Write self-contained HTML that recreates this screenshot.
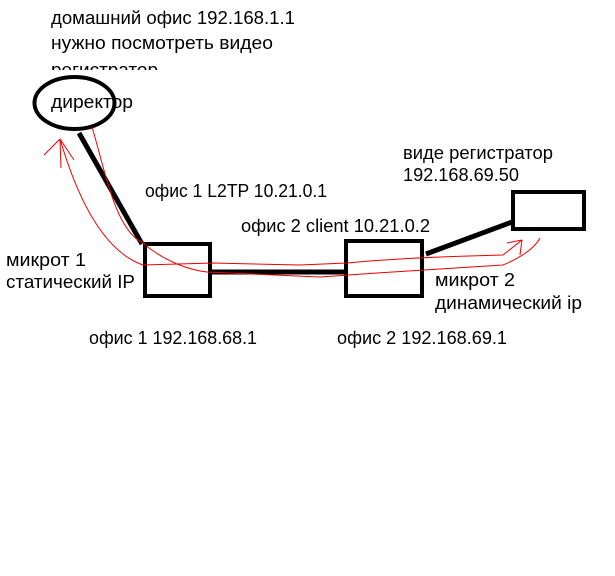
<!DOCTYPE html>
<html><head><meta charset="utf-8"><style>
html,body{margin:0;padding:0;background:#fff;width:615px;height:576px;overflow:hidden}
text{font-family:"Liberation Sans","Noto Sans CJK SC",sans-serif;font-size:18px;fill:#000}
</style></head><body>
<svg width="615" height="576" viewBox="0 0 615 576" xmlns="http://www.w3.org/2000/svg">
<defs><clipPath id="c3"><rect x="0" y="55" width="615" height="15"/></clipPath></defs>
<text x="51" y="24" textLength="244" lengthAdjust="spacingAndGlyphs">домашний офис 192.168.1.1</text>
<text x="51" y="49" textLength="222" lengthAdjust="spacingAndGlyphs">нужно посмотреть видео</text>
<text x="51" y="76" textLength="107" lengthAdjust="spacingAndGlyphs" clip-path="url(#c3)">регистратор</text>
<text x="51" y="108" textLength="82" lengthAdjust="spacingAndGlyphs">директор</text>
<ellipse cx="74.5" cy="103" rx="40" ry="26" fill="none" stroke="#000" stroke-width="4"/>
<line x1="79" y1="133" x2="142" y2="244" stroke="#000" stroke-width="5"/>
<rect x="145" y="244" width="65" height="52" fill="none" stroke="#000" stroke-width="4"/>
<line x1="212" y1="272" x2="345" y2="272" stroke="#000" stroke-width="5"/>
<rect x="346" y="241" width="76" height="55" fill="none" stroke="#000" stroke-width="4"/>
<line x1="426" y1="254" x2="512" y2="222" stroke="#000" stroke-width="5"/>
<rect x="513" y="192" width="71" height="37" fill="none" stroke="#000" stroke-width="4"/>
<text x="145" y="197" textLength="182" lengthAdjust="spacingAndGlyphs">офис 1 L2TP 10.21.0.1</text>
<text x="241" y="232" textLength="189" lengthAdjust="spacingAndGlyphs">офис 2 client 10.21.0.2</text>
<text x="6" y="266" textLength="80" lengthAdjust="spacingAndGlyphs">микрот 1</text>
<text x="6" y="288" textLength="129" lengthAdjust="spacingAndGlyphs">статический  IP</text>
<text x="89" y="344" textLength="168" lengthAdjust="spacingAndGlyphs">офис 1 192.168.68.1</text>
<text x="337" y="344" textLength="170" lengthAdjust="spacingAndGlyphs">офис 2 192.168.69.1</text>
<text x="403" y="159" textLength="150" lengthAdjust="spacingAndGlyphs">виде регистратор</text>
<text x="403" y="181" textLength="116" lengthAdjust="spacingAndGlyphs">192.168.69.50</text>
<text x="435" y="286" textLength="80" lengthAdjust="spacingAndGlyphs">микрот 2</text>
<text x="435" y="309" textLength="147" lengthAdjust="spacingAndGlyphs">динамический ip</text>
<g fill="none" stroke="#e00" stroke-width="1">
<path d="M60 139 C75 190 100 250 143 265 L213 263 L300 265 L347 263 C400 258 460 256 503 255 L522 240"/>
<path d="M92 127 C105 170 115 230 143 243 C165 262 190 270 207 272 L320 277 L377 273 L503 265 C520 258 535 248 540 238"/>
<path d="M60 139 L44 155 M60 139 L74 160 M60 139 L61 168"/>
<path d="M522 240 L507 243 M522 240 L520 255"/>
</g>
</svg>
</body></html>
